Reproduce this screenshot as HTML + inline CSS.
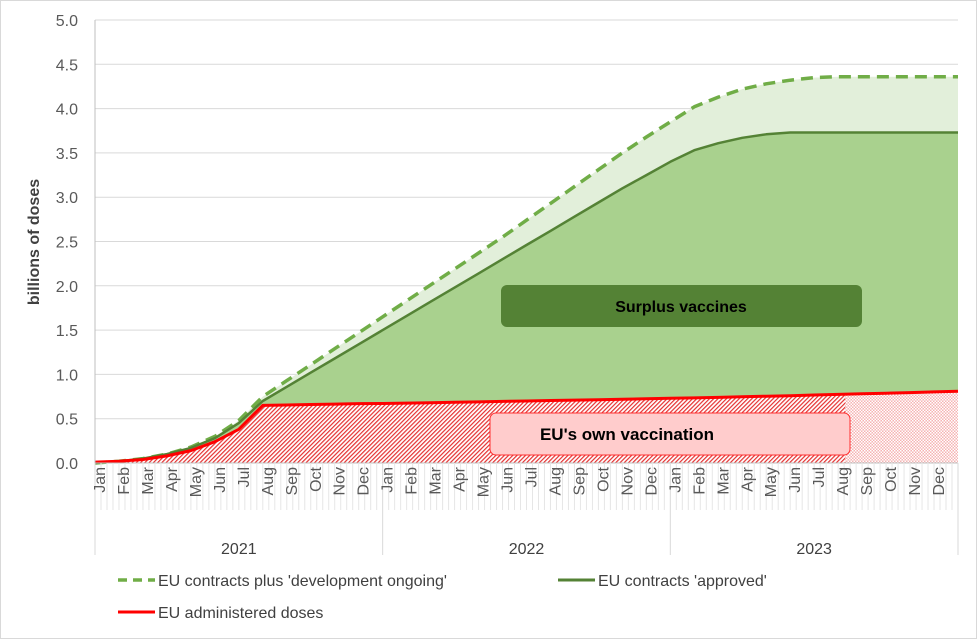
<!DOCTYPE html>
<html><head><meta charset="utf-8"><style>
body{margin:0;background:#fff}
svg{font-family:"Liberation Sans",sans-serif;display:block}
</style></head><body>
<svg id="chart" width="977" height="639" viewBox="0 0 977 639">
<defs>
<pattern id="hatch" width="3" height="3" patternUnits="userSpaceOnUse" patternTransform="rotate(45)">
<rect width="3" height="3" fill="#fff"/><rect width="1.2" height="3" fill="#e53030"/></pattern>
<pattern id="cross" width="3" height="3" patternUnits="userSpaceOnUse">
<rect width="3" height="3" fill="#f6b3b3"/><rect width="1.5" height="1.5" fill="#fff"/><rect x="1.5" y="1.5" width="1.5" height="1.5" fill="#fff"/></pattern>
</defs>
<rect x="0.5" y="0.5" width="976" height="638" fill="#fff" stroke="#d9d9d9"/>
<g id="grid"></g><g id="areas"></g><g id="lines"></g><g id="axes"></g>
<rect x="501" y="285" width="361" height="42" rx="6" fill="#548235"/>
<text x="681" y="312" text-anchor="middle" font-size="16" font-weight="bold" fill="#000">Surplus vaccines</text>
<rect x="490" y="413" width="360" height="42" rx="6" fill="#ffcccc" stroke="#ff3030"/>
<text x="627" y="440" text-anchor="middle" font-size="17" font-weight="bold" fill="#000">EU's own vaccination</text>
<text transform="translate(39,242) rotate(-90)" text-anchor="middle" font-size="16" font-weight="bold" fill="#404040">billions of doses</text>
<g>
<line x1="118" y1="580" x2="155" y2="580" stroke="#70ad47" stroke-width="3.5" stroke-dasharray="9,6"/>
<text x="158" y="586" font-size="16" fill="#404040">EU contracts plus 'development ongoing'</text>
<line x1="558" y1="580" x2="595" y2="580" stroke="#548235" stroke-width="3"/>
<text x="598" y="586" font-size="16" fill="#404040">EU contracts 'approved'</text>
<line x1="118" y1="612" x2="155" y2="612" stroke="#ff0000" stroke-width="3"/>
<text x="158" y="618" font-size="16" fill="#404040">EU administered doses</text>
</g>
</svg>
<script>
const months=["Jan","Feb","Mar","Apr","May","Jun","Jul","Aug","Sep","Oct","Nov","Dec"];
const years=["2021","2022","2023"];
const yTicks=[0,0.5,1,1.5,2,2.5,3,3.5,4,4.5,5];
// monthly values, start of each month Jan 2021 .. Jan 2024 (37 points)
const dashed=[0,0.02,0.05,0.1,0.18,0.3,0.48,0.75,0.93,1.11,1.29,1.47,1.65,1.83,2.01,2.19,2.37,2.55,2.74,2.93,3.12,3.31,3.5,3.68,3.85,4.02,4.13,4.22,4.28,4.32,4.35,4.36,4.36,4.36,4.36,4.36,4.36];
const approved=[0,0.02,0.05,0.1,0.17,0.28,0.45,0.7,0.86,1.02,1.18,1.34,1.5,1.66,1.82,1.98,2.14,2.3,2.46,2.62,2.78,2.94,3.1,3.25,3.4,3.53,3.61,3.67,3.71,3.73,3.73,3.73,3.73,3.73,3.73,3.73,3.73];
const administered=[0.01,0.02,0.04,0.08,0.14,0.24,0.38,0.65,0.655,0.66,0.665,0.67,0.672,0.676,0.68,0.685,0.69,0.695,0.7,0.705,0.71,0.715,0.72,0.725,0.73,0.735,0.74,0.747,0.754,0.76,0.767,0.774,0.781,0.788,0.795,0.802,0.81];
const NS="http://www.w3.org/2000/svg";
const X0=95,X1=958,Y0=463,Y1=20;
const xs=i=>X0+i*(X1-X0)/36;
const ys=v=>Y0-v*(Y0-Y1)/5;
function mk(p,t,a){const e=document.createElementNS(NS,t);for(const k in a)e.setAttribute(k,a[k]);document.getElementById(p).appendChild(e);return e;}
const lineD=arr=>arr.map((v,i)=>(i?"L":"M")+xs(i).toFixed(1)+","+ys(v).toFixed(1)).join("");
const areaD=(top,bot)=>lineD(top)+bot.map((v,i)=>[i,v]).reverse().map(([i,v])=>"L"+xs(i).toFixed(1)+","+ys(v).toFixed(1)).join("")+"Z";
const zeros=dashed.map(()=>0);
yTicks.forEach(t=>{
 const g=mk("grid","line",{x1:X0,x2:X1,y1:ys(t),y2:ys(t),stroke:"#d9d9d9","stroke-width":1});
 
 
 const l=mk("axes","text",{x:78,y:ys(t)+6,"text-anchor":"end","font-size":16,fill:"#595959"});
 l.textContent=t.toFixed(1);
 
 
});
let a=mk("areas","path",{d:areaD(dashed,approved),fill:"#e2efda"});


a=mk("areas","path",{d:areaD(approved,administered),fill:"#a9d18e"});


a=mk("areas","path",{d:areaD(administered,zeros),fill:"url(#hatch)"});


const cx=xs(31.3);
const crossTop=administered.slice(31);
let cd="M"+cx+","+ys(administered[31]);
crossTop.forEach((v,k)=>{cd+="L"+xs(31+k)+","+ys(v);});
cd+="L"+xs(36)+","+Y0+"L"+cx+","+Y0+"Z";
a=mk("areas","path",{d:cd,fill:"url(#cross)"});


let l=mk("lines","path",{d:lineD(dashed),fill:"none",stroke:"#70ad47","stroke-width":3.5,"stroke-dasharray":"12,7","stroke-linejoin":"round"});


l=mk("lines","path",{d:lineD(approved),fill:"none",stroke:"#548235","stroke-width":2.5,"stroke-linejoin":"round"});


l=mk("lines","path",{d:lineD(administered),fill:"none",stroke:"#ff0000","stroke-width":3,"stroke-linejoin":"round"});


let ax=mk("axes","line",{x1:X0,x2:X0,y1:Y1,y2:Y0,stroke:"#bfbfbf"});


ax=mk("axes","line",{x1:X0,x2:X1,y1:Y0,y2:Y0,stroke:"#bfbfbf"});


for(let d=0;d<=36*4;d++){
 const x=X0+d*(X1-X0)/144;
 const t=mk("axes","line",{x1:x,x2:x,y1:Y0,y2:d%48==0?555:510,stroke:d%48==0?"#d9d9d9":"#e6e6e6","stroke-width":1});
 
 
}
years.forEach((yr,yi)=>{
 months.forEach((m,mi)=>{
  const i=yi*12+mi;
  const t=mk("axes","text",{transform:`translate(${xs(i)+10},${467}) rotate(-90)`,"text-anchor":"end","font-size":16,fill:"#595959"});
  t.textContent=m;
  
  
 });
 const t=mk("axes","text",{x:(xs(yi*12)+xs(yi*12+12))/2,y:554,"text-anchor":"middle","font-size":16,fill:"#404040"});
 t.textContent=yr;
 
 
});
</script>
</body></html>
